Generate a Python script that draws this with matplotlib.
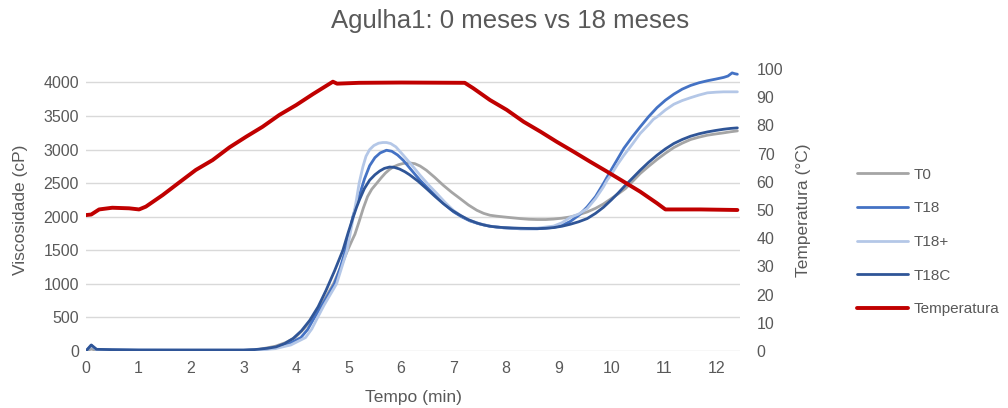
import matplotlib
matplotlib.use("Agg")
import matplotlib.pyplot as plt

plt.rcParams['font.family'] = ['Liberation Sans', 'DejaVu Sans']

# ---------------- data ----------------
t_T0 = [0, 0.1, 0.2, 0.5, 1, 2, 3, 3.3, 3.6, 3.8, 3.98, 4.15, 4.32, 4.52, 4.71, 4.85, 4.98, 5.06, 5.12,
        5.2, 5.28, 5.36, 5.44, 5.53, 5.62, 5.70, 5.78, 5.85, 5.95, 6.05, 6.16, 6.26, 6.36, 6.48, 6.64,
        6.80, 6.96, 7.12, 7.28, 7.44, 7.57, 7.69, 7.82, 7.95, 8.1, 8.27, 8.43, 8.59, 8.75, 8.90, 9.06,
        9.22, 9.38, 9.54, 9.70, 9.85, 10.0, 10.14, 10.27, 10.41, 10.55, 10.71, 10.87, 11.03, 11.19,
        11.35, 11.51, 11.67, 11.83, 11.99, 12.14, 12.27, 12.4]
v_T0 = [0, 30, 8, 5, 5, 5, 5, 25, 70, 125, 200, 330, 500, 740, 1000, 1250, 1500, 1640, 1740,
        1930, 2130, 2300, 2410, 2494, 2580, 2650, 2705, 2742, 2775, 2795, 2801, 2790, 2755, 2692, 2585,
        2469, 2365, 2271, 2175, 2096, 2050, 2022, 2008, 1997, 1985, 1972, 1962, 1958, 1958, 1965, 1978,
        1997, 2030, 2071, 2125, 2190, 2270, 2345, 2420, 2530, 2643, 2750, 2852, 2945, 3030,
        3095, 3150, 3185, 3214, 3233, 3249, 3265, 3278]

t_T18 = [0, 0.1, 0.2, 0.5, 1, 2, 3, 3.3, 3.6, 3.85, 4.09, 4.22, 4.35, 4.54, 4.73, 4.84, 4.94, 5.01,
         5.08, 5.15, 5.21, 5.30, 5.40, 5.50, 5.60, 5.72, 5.82, 5.93, 6.04, 6.20, 6.36, 6.52, 6.68, 6.84,
         7.0, 7.16, 7.31, 7.5, 7.69, 7.95, 8.27, 8.59, 8.90, 9.06, 9.22, 9.38, 9.54, 9.70, 9.85, 10.0,
         10.12, 10.24, 10.40, 10.55, 10.71, 10.87, 11.03, 11.19, 11.35, 11.51, 11.67, 11.83, 11.99,
         12.14, 12.22, 12.30, 12.35, 12.40]
v_T18 = [0, 85, 20, 15, 12, 10, 10, 20, 45, 100, 200, 320, 500, 740, 1000, 1240, 1500, 1740,
         2000, 2180, 2330, 2560, 2760, 2880, 2950, 2990, 2975, 2920, 2840, 2690, 2543, 2415, 2295, 2175,
         2071, 1995, 1937, 1890, 1858, 1835, 1820, 1820, 1840, 1870, 1930, 2020, 2146, 2300, 2494, 2700,
         2860, 3020, 3190, 3338, 3490, 3625, 3735, 3825, 3900, 3955, 3995, 4025, 4050,
         4075, 4095, 4142, 4130, 4122]

t_T18p = [0, 0.1, 0.2, 0.5, 1, 2, 3, 3.3, 3.6, 3.9, 4.18, 4.30, 4.41, 4.53, 4.65, 4.77, 4.87, 4.97,
          5.03, 5.09, 5.15, 5.20, 5.27, 5.33, 5.40, 5.48, 5.57, 5.65, 5.72, 5.80, 5.90, 6.04, 6.20, 6.36,
          6.52, 6.68, 6.84, 7.0, 7.16, 7.31, 7.5, 7.69, 7.95, 8.27, 8.59, 8.90, 9.06, 9.22, 9.38, 9.54,
          9.70, 9.85, 9.92, 10.0, 10.12, 10.24, 10.40, 10.55, 10.71, 10.80, 10.87, 11.03, 11.19, 11.35,
          11.51, 11.67, 11.83, 12.0, 12.14, 12.4]
v_T18p = [0, 80, 20, 12, 10, 10, 10, 15, 35, 90, 200, 330, 500, 680, 840, 1000, 1250, 1500,
          1750, 2000, 2260, 2500, 2740, 2900, 3000, 3060, 3095, 3105, 3105, 3090, 3040, 2916, 2770, 2618,
          2475, 2345, 2210, 2090, 2005, 1945, 1895, 1860, 1835, 1825, 1830, 1860, 1910, 1990, 2040, 2120,
          2270, 2444, 2543, 2630, 2780, 2915, 3080, 3240, 3370, 3450, 3487, 3590, 3675, 3730,
          3773, 3812, 3845, 3855, 3860, 3860]

t_T18C = [0, 0.1, 0.2, 0.5, 1, 2, 3, 3.2, 3.45, 3.62, 3.78, 3.94, 4.10, 4.26, 4.42, 4.57, 4.73, 4.89,
          4.99, 5.08, 5.15, 5.21, 5.30, 5.40, 5.50, 5.59, 5.68, 5.78, 5.87, 5.97, 6.07, 6.16, 6.32, 6.48,
          6.64, 6.80, 6.96, 7.12, 7.28, 7.44, 7.57, 7.69, 7.82, 7.95, 8.1, 8.27, 8.43, 8.59, 8.75, 8.90,
          9.06, 9.22, 9.38, 9.54, 9.70, 9.85, 10.0, 10.14, 10.27, 10.41, 10.55, 10.71, 10.87, 11.03,
          11.19, 11.35, 11.51, 11.67, 11.83, 11.99, 12.14, 12.27, 12.4]
v_T18C = [0, 90, 25, 20, 15, 15, 15, 20, 40, 62, 110, 185, 300, 457, 660, 904, 1190, 1500,
          1760, 1980, 2140, 2260, 2420, 2545, 2625, 2680, 2720, 2740, 2735, 2710, 2670, 2625, 2530, 2420,
          2305, 2196, 2100, 2022, 1955, 1907, 1878, 1858, 1846, 1838, 1832, 1828, 1825, 1823, 1828, 1838,
          1858, 1888, 1925, 1972, 2050, 2140, 2250, 2360, 2470, 2580, 2692, 2810, 2916, 3010,
          3090, 3150, 3199, 3235, 3263, 3285, 3303, 3315, 3323]

t_temp = [0, 0.1, 0.25, 0.5, 0.82, 1.01, 1.14, 1.46, 1.77, 2.09, 2.41, 2.73, 3.05, 3.36, 3.68, 4.0, 4.32,
          4.70, 4.78, 5.2, 6.0, 7.21, 7.37, 7.69, 8.01, 8.33, 8.65, 8.96, 9.28, 9.60, 9.92, 10.24, 10.55,
          10.87, 11.03, 11.7, 12.4]
temp = [48.2, 48.4, 50.2, 50.8, 50.6, 50.2, 51.2, 55.3, 59.7, 64.2, 67.7, 72.2, 76.0, 79.5, 83.7, 87.2, 91.1,
        95.5, 94.8, 95.1, 95.2, 95.1, 93.2, 89.0, 85.5, 81.3, 77.8, 74.2, 70.7, 67.1, 63.6, 60.0, 56.5,
        52.4, 50.2, 50.2, 50.0]

series_names = ['T0', 'T18', 'T18+', 'T18C']
temp_name = 'Temperatura'
title = 'Agulha1: 0 meses vs 18 meses'
x_ticks = list(range(0, 13))
y_ticks = list(range(0, 4001, 500))
y2_ticks = list(range(0, 101, 10))

# ---------------- figure ----------------
txt = '#595959'
fig = plt.figure(figsize=(10.08, 4.08), dpi=100)
ax = fig.add_axes([86/1008, 1-351/408, (740-86)/1008, (351-69)/408])
ax2 = ax.twinx()

colors = ['#A5A5A5', '#4472C4', '#B4C7E7', '#2F5597']
data = [(t_T0, v_T0), (t_T18, v_T18), (t_T18p, v_T18p), (t_T18C, v_T18C)]
handles = []
for (tt, vv), c, n in zip(data, colors, series_names):
    h, = ax.plot(tt, vv, color=c, lw=2.0, label=n, solid_capstyle='round', solid_joinstyle='round')
    handles.append(h)
ht, = ax2.plot(t_temp, temp, color='#C00000', lw=2.8, label=temp_name,
               solid_capstyle='round', solid_joinstyle='round')
handles.append(ht)

ax.set_xlim(0, 12.45)
ax.set_ylim(0, 4200)
ax2.set_ylim(0, 100)
ax.set_xticks(x_ticks)
ax.set_yticks(y_ticks)
ax2.set_yticks(y2_ticks)
ax.grid(axis='y', color='#D9D9D9', lw=1.0)
ax.set_axisbelow(True)
for a in (ax, ax2):
    for s in a.spines.values():
        s.set_visible(False)
ax.tick_params(axis='both', length=0, labelsize=11.5, labelcolor=txt)
ax.tick_params(axis='y', pad=5)
ax.tick_params(axis='x', pad=7)
ax2.tick_params(axis='y', length=0, labelsize=11.5, labelcolor=txt, pad=12)

ax.set_ylabel('Viscosidade (cP)', fontsize=12.5, color=txt)
ax.yaxis.set_label_coords(-0.089, 0.5)
ax2.set_ylabel('Temperatura (°C)', fontsize=12.5, color=txt)
ax2.yaxis.set_label_coords(1.086, 0.5)
ax.set_xlabel('Tempo (min)', fontsize=12.5, color=txt)
ax.xaxis.set_label_coords(0.5, -0.138)

fig.text(0.506, 1-21/408, title, ha='center', va='center', fontsize=18.5, color=txt)

fig.legend(handles=handles, loc='center left', bbox_to_anchor=(857/1008, 1-242/408),
           frameon=False, fontsize=11, labelcolor=txt, handlelength=3.35, handletextpad=0.33,
           labelspacing=1.29, borderpad=0, borderaxespad=0)

fig.savefig('out.png', dpi=100)
